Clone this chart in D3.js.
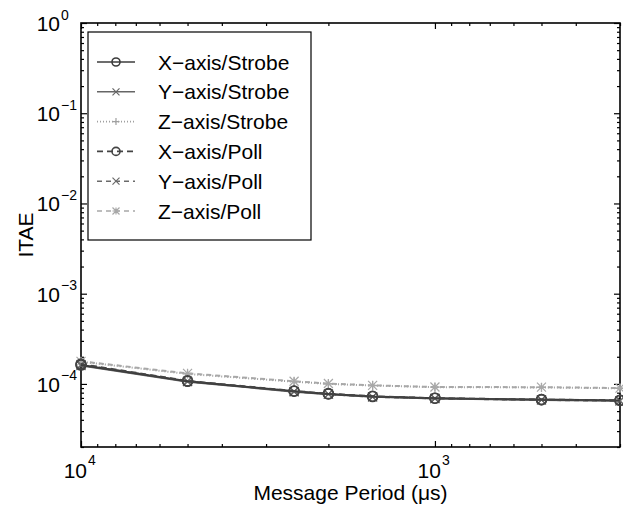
<!DOCTYPE html>
<html>
<head>
<meta charset="utf-8">
<script src="https://cdn.jsdelivr.net/npm/d3@7/dist/d3.min.js"></script>
<style>
  body { margin: 0; background: #fff; }
  text { font-family: "Liberation Sans", Arial, Helvetica, sans-serif; fill: #000; }
</style>
</head>
<body>
<div id="chart"></div>
<script>
// data (message period in us, ITAE)
var periods = [10000, 5000, 2500, 2000, 1500, 1000, 500, 300];
var xStrobe = [1.62e-4, 1.07e-4, 8.3e-5, 7.75e-5, 7.25e-5, 6.95e-5, 6.7e-5, 6.55e-5];
var yStrobe = [1.60e-4, 1.06e-4, 8.2e-5, 7.7e-5, 7.2e-5, 6.9e-5, 6.65e-5, 6.5e-5];
var zStrobe = [1.76e-4, 1.29e-4, 1.06e-4, 1.0e-4, 9.6e-5, 9.2e-5, 9.15e-5, 8.95e-5];
var xPoll = [1.66e-4, 1.08e-4, 8.35e-5, 7.8e-5, 7.3e-5, 6.95e-5, 6.7e-5, 6.6e-5];
var yPoll = [1.63e-4, 1.07e-4, 8.25e-5, 7.7e-5, 7.2e-5, 6.9e-5, 6.65e-5, 6.5e-5];
var zPoll = [1.78e-4, 1.31e-4, 1.07e-4, 1.01e-4, 9.65e-5, 9.25e-5, 9.2e-5, 9.0e-5];
var seriesNames = ["X\u2212axis/Strobe", "Y\u2212axis/Strobe", "Z\u2212axis/Strobe",
                   "X\u2212axis/Poll", "Y\u2212axis/Poll", "Z\u2212axis/Poll"];
var xMajor = [10000, 1000];
var yMajor = [1, 1e-1, 1e-2, 1e-3, 1e-4];
var xLabels = ["4", "3"];
var yLabels = ["0", "\u22121", "\u22122", "\u22123", "\u22124"];

var allSeries = [xStrobe, yStrobe, zStrobe, xPoll, yPoll, zPoll];
var styles = [
  {color: "#3c3c3c", dash: null, marker: "circle"},
  {color: "#666666", dash: null, marker: "x"},
  {color: "#a0a0a0", dash: "1,2", marker: "plus"},
  {color: "#444444", dash: "6,4", marker: "circle"},
  {color: "#6a6a6a", dash: "5,4", marker: "x"},
  {color: "#a8a8a8", dash: "5,4", marker: "star"}
];

var W = 623, H = 507;
var L = 81, R = 620, T = 23, B = 447;

var svg = d3.select("#chart").append("svg")
    .attr("width", W)
    .attr("height", H);

var x = d3.scaleLog().domain([10000, 300]).range([L, R]);
var y = d3.scaleLog().domain([2e-5, 1]).range([B, T]);

// minor tick values
var xMinor = [];
[100, 1000].forEach(function(b) {
  for (var k = 2; k <= 9; k++) { var v = b * k; if (v >= 300 && v <= 10000) xMinor.push(v); }
});
var yMinor = [];
[1e-5, 1e-4, 1e-3, 1e-2, 1e-1].forEach(function(b) {
  for (var k = 2; k <= 9; k++) { var v = b * k; if (v >= 2e-5 && v < 1) yMinor.push(v); }
});

function tickAxis(axis, vals, size, tr) {
  var g = svg.append("g")
    .attr("transform", tr)
    .call(axis.tickValues(vals).tickSize(size).tickFormat(""));
  g.select(".domain").remove();
  g.selectAll("line").attr("stroke", "#000").attr("stroke-width", 1.2);
}
// ticks pointing inward on all four sides
tickAxis(d3.axisBottom(x), xMinor, -3, "translate(0," + B + ")");
tickAxis(d3.axisBottom(x), xMajor, -6, "translate(0," + B + ")");
tickAxis(d3.axisTop(x), xMinor, -3, "translate(0," + T + ")");
tickAxis(d3.axisTop(x), xMajor, -6, "translate(0," + T + ")");
tickAxis(d3.axisLeft(y), yMinor, -3, "translate(" + L + ",0)");
tickAxis(d3.axisLeft(y), yMajor, -6, "translate(" + L + ",0)");
tickAxis(d3.axisRight(y), yMinor, -3, "translate(" + R + ",0)");
tickAxis(d3.axisRight(y), yMajor, -6, "translate(" + R + ",0)");

// frame
svg.append("rect")
  .attr("x", L).attr("y", T)
  .attr("width", R - L).attr("height", B - T)
  .attr("fill", "none")
  .attr("stroke", "#000")
  .attr("stroke-width", 1.6);

// tick labels 10^n
xMajor.forEach(function(v, i) {
  var px = x(v) + 6;
  svg.append("text").attr("x", px).attr("y", B + 31)
    .attr("text-anchor", "end").style("font-size", "21px").text("10");
  svg.append("text").attr("x", px + 1).attr("y", B + 18)
    .style("font-size", "14px").text(xLabels[i]);
});
yMajor.forEach(function(v, i) {
  var py = y(v);
  svg.append("text").attr("x", 60).attr("y", py + 8)
    .attr("text-anchor", "end").style("font-size", "21px").text("10");
  svg.append("text").attr("x", 61).attr("y", py - 3.5)
    .style("font-size", "14px").text(yLabels[i]);
});

// axis titles
svg.append("text")
  .attr("x", (L + R) / 2).attr("y", B + 53)
  .attr("text-anchor", "middle")
  .style("font-size", "21px")
  .text("Message Period (\u03bcs)");
svg.append("text")
  .attr("transform", "translate(33," + (T + B) / 2 + ") rotate(-90)")
  .attr("text-anchor", "middle")
  .style("font-size", "21px")
  .text("ITAE");

function drawMarker(g, type, cx, cy, color, r) {
  if (type == "circle") {
    g.append("circle").attr("cx", cx).attr("cy", cy).attr("r", r)
      .attr("fill", "none").attr("stroke", color).attr("stroke-width", 1.6);
  } else {
    var s = r - 0.5;
    var p = "";
    if (type == "x" || type == "star") {
      p += "M" + (cx - s) + "," + (cy - s) + "L" + (cx + s) + "," + (cy + s);
      p += "M" + (cx - s) + "," + (cy + s) + "L" + (cx + s) + "," + (cy - s);
    }
    if (type == "plus" || type == "star") {
      p += "M" + (cx - s) + "," + cy + "L" + (cx + s) + "," + cy;
      p += "M" + cx + "," + (cy - s) + "L" + cx + "," + (cy + s);
    }
    g.append("path").attr("d", p).attr("stroke", color).attr("stroke-width", 1.2).attr("fill", "none");
  }
}

var line = d3.line()
  .x(function(d) { return x(d[0]); })
  .y(function(d) { return y(d[1]); });

// draw series (light ones first so darker sit on top)
[2, 5, 1, 4, 0, 3].forEach(function(si) {
  var st = styles[si];
  var pts = periods.map(function(p, i) { return [p, allSeries[si][i]]; });
  var g = svg.append("g");
  g.append("path")
    .datum(pts)
    .attr("d", line)
    .attr("fill", "none")
    .attr("stroke", st.color)
    .attr("stroke-width", 2)
    .attr("stroke-dasharray", st.dash);
  pts.forEach(function(d) { drawMarker(g, st.marker, x(d[0]), y(d[1]), st.color, 5); });
});

// legend
var lg = svg.append("g");
lg.append("rect")
  .attr("x", 88).attr("y", 32)
  .attr("width", 223).attr("height", 208)
  .attr("fill", "#fff")
  .attr("stroke", "#000")
  .attr("stroke-width", 1.2);
seriesNames.forEach(function(name, i) {
  var st = styles[i];
  var ry = 62 + i * 29.8;
  lg.append("line")
    .attr("x1", 97).attr("x2", 135)
    .attr("y1", ry).attr("y2", ry)
    .attr("stroke", st.color)
    .attr("stroke-width", 1.6)
    .attr("stroke-dasharray", st.dash);
  drawMarker(lg, st.marker, 116, ry, st.color, 4);
  lg.append("text")
    .attr("x", 158).attr("y", ry + 7.5)
    .style("font-size", "21px")
    .text(name);
});
</script>
</body>
</html>
